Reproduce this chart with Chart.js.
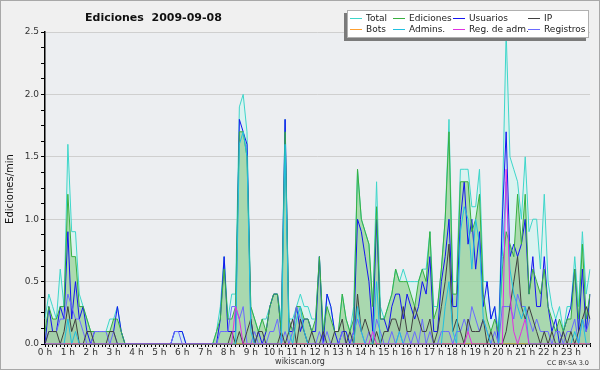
<!DOCTYPE html>
<html>
<head>
<meta charset="utf-8">
<script src="https://cdn.jsdelivr.net/npm/chart.js@4.4.1/dist/chart.umd.min.js"></script>
<style>
  body { margin: 0; background: #f0f0f0; }
  #wrap { width: 600px; height: 370px; }
</style>
</head>
<body>
<div id="wrap"><canvas id="editsChart" width="600" height="370"></canvas></div>
<script>
// Hour labels on the x axis, one bin every 10 minutes
const hourLabels = ['0 h', '1 h', '2 h', '3 h', '4 h', '5 h', '6 h', '7 h', '8 h', '9 h', '10 h', '11 h',
  '12 h', '13 h', '14 h', '15 h', '16 h', '17 h', '18 h', '19 h', '20 h', '21 h', '22 h', '23 h'];
const binLabels = [];
for (let h = 0; h < 24; h++) {
  for (let m = 0; m < 60; m += 10) binLabels.push(h + ':' + String(m).padStart(2, '0'));
}
const yTicks = [0, 0.5, 1, 1.5, 2, 2.5];

// Edits per minute, one line per hour (6 bins of 10 min)
const totalData = [
  0.2, 0.4, 0.3, 0.2, 0.6, 0.3,
  1.6, 0.9, 0.9, 0.4, 0.3, 0.2,
  0.1, 0.1, 0.1, 0.1, 0.1, 0.2,
  0.2, 0.3, 0.1, 0, 0, 0,
  0, 0, 0, 0, 0, 0,
  0, 0, 0, 0, 0.1, 0.1,
  0.1, 0, 0, 0, 0, 0,
  0, 0, 0, 0.1, 0.3, 0.7,
  0.2, 0.4, 0.4, 1.9, 2.0, 1.7,
  0.3, 0.2, 0.1, 0.2, 0.2, 0.3,
  0.4, 0.4, 0.2, 1.8, 0.2, 0.2,
  0.3, 0.4, 0.3, 0.3, 0.2, 0.2,
  0.7, 0.1, 0.4, 0.3, 0.1, 0.1,
  0.4, 0.2, 0.1, 0.3, 1.4, 1.0,
  0.9, 0.8, 0.3, 1.3, 0.3, 0.2,
  0.3, 0.4, 0.6, 0.5, 0.6, 0.5,
  0.5, 0.5, 0.5, 0.6, 0.6, 0.9,
  0.3, 0.3, 0.6, 1.0, 1.8, 0.5,
  0.5, 1.4, 1.4, 1.4, 1.1, 1.1,
  1.4, 0.5, 0.5, 0.2, 0.3, 0.1,
  1.1, 2.5, 1.5, 1.4, 1.3, 1.0,
  1.5, 0.9, 1.0, 1.0, 0.6, 1.2,
  0.5, 0.3, 0.2, 0.3, 0.1, 0.3,
  0.3, 0.7, 0.3, 0.9, 0.4, 0.6
];
const edicionesData = [
  0.1, 0.3, 0.2, 0.2, 0.3, 0.3,
  1.2, 0.7, 0.7, 0.3, 0.3, 0.2,
  0.1, 0.1, 0.1, 0.1, 0.1, 0.1,
  0.2, 0.2, 0.1, 0, 0, 0,
  0, 0, 0, 0, 0, 0,
  0, 0, 0, 0, 0, 0,
  0, 0, 0, 0, 0, 0,
  0, 0, 0, 0.1, 0.2, 0.6,
  0.2, 0.2, 0.3, 1.7, 1.7, 1.5,
  0.3, 0.2, 0.1, 0.2, 0.1, 0.3,
  0.4, 0.4, 0.1, 1.7, 0.2, 0.1,
  0.3, 0.3, 0.2, 0.2, 0.1, 0.2,
  0.7, 0.1, 0.3, 0.2, 0.1, 0.1,
  0.4, 0.2, 0.1, 0.2, 1.4, 1.0,
  0.9, 0.8, 0.3, 1.1, 0.2, 0.2,
  0.3, 0.4, 0.6, 0.5, 0.5, 0.5,
  0.4, 0.3, 0.5, 0.6, 0.5, 0.9,
  0.2, 0.3, 0.6, 1.0, 1.7, 0.4,
  0.4, 1.3, 1.3, 1.3, 0.9, 1.0,
  1.2, 0.4, 0.2, 0.1, 0.2, 0.1,
  0.6, 0.9, 0.8, 0.7, 1.2, 0.8,
  1.2, 0.4, 0.6, 0.5, 0.4, 0.6,
  0.3, 0.2, 0.1, 0.2, 0.1, 0.2,
  0.2, 0.6, 0.2, 0.8, 0.2, 0.4
];
const usuariosData = [
  0, 0.3, 0.1, 0.1, 0.3, 0.2,
  0.9, 0.2, 0.5, 0.2, 0.3, 0.1,
  0, 0.1, 0.1, 0.1, 0.1, 0.1,
  0.1, 0.3, 0.1, 0, 0, 0,
  0, 0, 0, 0, 0, 0,
  0, 0, 0, 0, 0.1, 0.1,
  0.1, 0, 0, 0, 0, 0,
  0, 0, 0, 0, 0.2, 0.7,
  0.1, 0.1, 0.1, 1.8, 1.7, 1.6,
  0.2, 0, 0.1, 0, 0.1, 0.3,
  0.4, 0.4, 0.1, 1.8, 0.1, 0.1,
  0.3, 0.1, 0.2, 0.2, 0.1, 0.1,
  0.7, 0, 0.4, 0.3, 0.1, 0,
  0.1, 0.1, 0, 0.1, 1.0, 0.9,
  0.7, 0.5, 0.1, 1.0, 0.2, 0.2,
  0.1, 0.3, 0.4, 0.4, 0.2, 0.4,
  0.3, 0.2, 0.3, 0.5, 0.4, 0.7,
  0.1, 0.1, 0.5, 0.7, 1.0, 0.3,
  0.3, 1.0, 1.3, 0.8, 1.0, 0.6,
  0.9, 0.3, 0.5, 0.2, 0.3, 0,
  1.0, 1.7, 0.7, 0.8, 0.7, 0.8,
  1.0, 0.4, 0.7, 0.3, 0.3, 0.7,
  0.3, 0.1, 0.2, 0, 0.1, 0.2,
  0.3, 0.6, 0.1, 0.6, 0.1, 0.4
];
const ipData = [
  0, 0.1, 0.1, 0.1, 0, 0.1,
  0.3, 0.1, 0.2, 0, 0, 0.1,
  0.1, 0, 0, 0, 0, 0.1,
  0.1, 0, 0, 0, 0, 0,
  0, 0, 0, 0, 0, 0,
  0, 0, 0, 0, 0, 0,
  0, 0, 0, 0, 0, 0,
  0, 0, 0, 0, 0, 0,
  0, 0.1, 0, 0.1, 0, 0.1,
  0.2, 0, 0.1, 0.1, 0, 0,
  0, 0, 0.1, 0, 0.1, 0.2,
  0, 0.2, 0.1, 0, 0.1, 0,
  0, 0.1, 0, 0, 0.1, 0.1,
  0.2, 0, 0.1, 0, 0.4, 0.1,
  0.2, 0.1, 0, 0.1, 0, 0.1,
  0.1, 0.2, 0.2, 0.1, 0.3, 0.1,
  0.1, 0.3, 0.2, 0.1, 0.1, 0.2,
  0, 0.1, 0.3, 0.5, 0.8, 0.1,
  0.2, 0.1, 0, 0.2, 0.1, 0.1,
  0.1, 0.2, 0, 0.1, 0, 0,
  0, 0.1, 0.3, 0.5, 0.7, 0.3,
  0.2, 0.3, 0.2, 0.1, 0, 0.1,
  0, 0.1, 0, 0, 0.1, 0,
  0.1, 0, 0.1, 0.2, 0.3, 0.2
];
const botsData = [
  0, 0, 0, 0, 0, 0,  0, 0, 0, 0, 0, 0,  0, 0, 0, 0, 0, 0,  0, 0, 0, 0, 0, 0,
  0, 0, 0, 0, 0, 0,  0, 0, 0, 0, 0, 0,  0, 0, 0, 0, 0, 0,  0, 0, 0, 0, 0, 0,
  0, 0, 0, 0, 0, 0,  0, 0, 0, 0, 0, 0,  0, 0, 0, 0, 0, 0,  0, 0, 0, 0, 0, 0,
  0, 0, 0, 0, 0, 0,  0, 0, 0, 0, 0, 0,  0, 0, 0, 0, 0, 0,  0, 0, 0, 0, 0, 0,
  0, 0, 0, 0, 0, 0,  0, 0, 0, 0, 0, 0,  0, 0, 0, 0, 0, 0,  0, 0, 0, 0, 0, 0,
  0, 0, 0, 0, 0, 0,  0, 0, 0, 0, 0, 0,  0, 0, 0, 0, 0, 0,  0, 0, 0, 0, 0, 0
];
const adminsData = [
  0, 0, 0, 0, 0, 0,
  0.2, 0, 0.1, 0, 0, 0,
  0, 0, 0, 0, 0, 0,
  0, 0, 0, 0, 0, 0,
  0, 0, 0, 0, 0, 0,
  0, 0, 0, 0, 0, 0,
  0, 0, 0, 0, 0, 0,
  0, 0, 0, 0, 0, 0,
  0, 0, 0, 1.6, 1.7, 1.5,
  0.1, 0, 0, 0, 0, 0,
  0, 0, 0, 1.6, 0.1, 0,
  0.2, 0.3, 0.1, 0, 0, 0,
  0, 0, 0, 0, 0, 0,
  0, 0, 0, 0, 0.3, 0.1,
  0, 0, 0, 0.5, 0, 0,
  0, 0, 0, 0.1, 0, 0,
  0, 0, 0, 0, 0, 0,
  0, 0, 0, 0.3, 0.5, 0.1,
  0, 0.9, 1.1, 1.0, 0.6, 1.0,
  0.8, 0.2, 0.1, 0, 0, 0,
  0.7, 1.3, 0.6, 0.4, 0.3, 0.2,
  0.3, 0, 0, 0, 0, 0,
  0, 0, 0, 0, 0, 0,
  0, 0.1, 0, 0.2, 0, 0
];
const regAdmData = [
  0, 0, 0, 0, 0, 0,  0, 0, 0, 0, 0, 0,  0, 0, 0, 0, 0, 0,  0, 0, 0, 0, 0, 0,
  0, 0, 0, 0, 0, 0,  0, 0, 0, 0, 0, 0,  0, 0, 0, 0, 0, 0,  0, 0, 0, 0, 0, 0,
  0, 0, 0.3, 0.2, 0, 0,  0, 0, 0, 0, 0, 0,  0, 0, 0, 0, 0, 0,  0, 0, 0, 0, 0, 0,
  0, 0, 0, 0, 0, 0,  0, 0, 0, 0, 0, 0,  0, 0, 0.1, 0, 0, 0,  0, 0, 0, 0, 0, 0,
  0, 0, 0, 0, 0, 0,  0, 0, 0, 0, 0, 0,  0, 0, 0, 0.1, 0, 0,  0, 0, 0, 0, 0, 0,
  0, 1.4, 0.4, 0.1, 0, 0.1,  0.2, 0, 0, 0, 0, 0,  0, 0, 0, 0, 0, 0,  0, 0, 0, 0, 0, 0
];
const registrosData = [
  0, 0.1, 0.1, 0.1, 0.2, 0.2,
  0.4, 0.3, 0.2, 0.2, 0.1, 0,
  0, 0.1, 0.1, 0.1, 0.1, 0,
  0.1, 0, 0, 0, 0, 0,
  0, 0, 0, 0, 0, 0,
  0, 0, 0, 0, 0.1, 0.1,
  0, 0, 0, 0, 0, 0,
  0, 0, 0, 0, 0.1, 0.1,
  0.1, 0.3, 0.3, 0.2, 0.3, 0,
  0, 0.1, 0, 0, 0, 0.1,
  0.1, 0.2, 0, 0.1, 0, 0.1,
  0.3, 0.2, 0.1, 0, 0, 0,
  0.1, 0, 0.1, 0, 0, 0,
  0.1, 0, 0, 0.1, 0.2, 0.1,
  0, 0.1, 0, 0.2, 0.1, 0,
  0, 0.1, 0, 0.1, 0, 0.1,
  0, 0.1, 0, 0.2, 0, 0.1,
  0, 0, 0.1, 0.1, 0.1, 0,
  0.1, 0.1, 0.2, 0.1, 0.3, 0.2,
  0.1, 0.2, 0.1, 0, 0.1, 0,
  0.3, 0.3, 0.3, 0.2, 0.4, 0.3,
  0.3, 0.2, 0.1, 0.2, 0.1, 0.1,
  0.1, 0, 0.1, 0.1, 0, 0.1,
  0.1, 0.2, 0, 0.2, 0.1, 0.2
];

const FONT = '"DejaVu Sans", sans-serif';

function line(label, data, color, fill, order) {
  return {
    label: label,
    data: data,
    borderColor: color,
    backgroundColor: fill || 'transparent',
    fill: fill ? 'origin' : false,
    borderWidth: 1,
    pointRadius: 0,
    tension: 0,
    order: order
  };
}

// higher order = drawn further back
const datasets = [
  line('Total', totalData, '#3ed6ca', 'rgba(205,246,238,0.55)', 9),
  line('Ediciones', edicionesData, '#38b040', 'rgba(125,195,110,0.5)', 7),
  line('Usuarios', usuariosData, '#1414f0', 'rgba(175,200,248,0.12)', 8),
  line('IP', ipData, '#404040', 'rgba(60,60,60,0.06)', 5),
  line('Bots', botsData, '#ffa030', null, 10),
  line('Admins.', adminsData, '#20c0e0', null, 4),
  line('Reg. de adm.', regAdmData, '#e030e0', null, 3),
  line('Registros', registrosData, '#6a6aff', null, 6)
];

// Legend grid: row, column
const legendRows = [['Total', 'Ediciones', 'Usuarios', 'IP'], ['Bots', 'Admins.', 'Reg. de adm.', 'Registros']];
const legendColX = [350, 393, 453, 528];

const decor = {
  id: 'decor',
  beforeDraw(chart) {
    const ctx = chart.ctx, a = chart.chartArea;
    ctx.save();
    ctx.fillStyle = '#f0f0f0';
    ctx.fillRect(0, 0, chart.width, chart.height);
    ctx.strokeStyle = '#a8a8a8';
    ctx.lineWidth = 1;
    ctx.strokeRect(0.5, 0.5, chart.width - 1, chart.height - 1);
    ctx.fillStyle = '#eceef1';
    ctx.fillRect(a.left, a.top, a.right - a.left, a.bottom - a.top);
    ctx.restore();
  },
  afterDraw(chart) {
    const ctx = chart.ctx;
    ctx.save();
    ctx.fillStyle = '#111';
    ctx.font = 'bold 11px ' + FONT;
    ctx.textBaseline = 'alphabetic';
    ctx.textAlign = 'left';
    ctx.fillText('Ediciones  2009-09-08', 85, 21);

    ctx.save();
    ctx.translate(10, 189);
    ctx.rotate(-Math.PI / 2);
    ctx.textAlign = 'center';
    ctx.textBaseline = 'middle';
    ctx.font = '10px ' + FONT;
    ctx.fillText('Ediciones/min', 0, 0);
    ctx.restore();

    ctx.fillStyle = '#333';
    ctx.font = '8px ' + FONT;
    ctx.textAlign = 'center';
    ctx.fillText('wikiscan.org', 300, 364);
    ctx.font = '6.5px ' + FONT;
    ctx.textAlign = 'right';
    ctx.fillText('CC BY-SA 3.0', 589, 365);

    // legend box with shadow
    ctx.fillStyle = '#7a7a7a';
    ctx.fillRect(344, 13, 242, 28);
    ctx.fillStyle = '#ffffff';
    ctx.fillRect(347, 10, 242, 28);
    ctx.strokeStyle = '#b0b0b0';
    ctx.strokeRect(347.5, 10.5, 241, 27);
    ctx.font = '9px ' + FONT;
    ctx.textAlign = 'left';
    ctx.textBaseline = 'middle';
    legendRows.forEach((row, r) => {
      const y = 18 + r * 11;
      row.forEach((name, c) => {
        const ds = datasets.find(d => d.label === name);
        const x = legendColX[c];
        ctx.strokeStyle = ds.borderColor;
        ctx.beginPath();
        ctx.moveTo(x, y + 0.5);
        ctx.lineTo(x + 12, y + 0.5);
        ctx.stroke();
        ctx.fillStyle = '#222';
        ctx.fillText(name, x + 16, y + 1);
      });
    });
    ctx.restore();
  }
};

const ctx = document.getElementById('editsChart').getContext('2d');
const editsChart = new Chart(ctx, {
  type: 'line',
  data: { labels: binLabels, datasets: datasets },
  options: {
    responsive: false,
    animation: false,
    layout: { padding: { top: 32, right: 10, left: 0, bottom: 0 } },
    plugins: {
      legend: { display: false },
      tooltip: { enabled: false },
      filler: { drawTime: 'beforeDatasetsDraw' }
    },
    scales: {
      x: {
        type: 'category',
        offset: false,
        z: 1,
        afterFit: s => { s.height = 26; },
        grid: { drawOnChartArea: false, offset: false, tickLength: 3, tickColor: '#000' },
        border: { color: '#000', width: 1.5 },
        ticks: {
          autoSkip: false, maxRotation: 0, minRotation: 0, padding: 0,
          color: '#333', font: { family: FONT, size: 9 },
          callback: (v, i) => (i % 6 === 0 ? hourLabels[i / 6] : '')
        }
      },
      y: {
        min: 0,
        max: 2.5,
        afterFit: s => { s.width = 45; },
        grid: {
          tickLength: 4,
          tickColor: '#000',
          color: c => (yTicks.some(t => Math.abs(t - c.tick.value) < 1e-6) ? '#cfcfcf' : 'transparent')
        },
        border: { color: '#000', width: 1.5 },
        ticks: {
          stepSize: 0.125, maxTicksLimit: 40, padding: 2,
          color: '#333', font: { family: FONT, size: 9 },
          callback: v => (yTicks.some(t => Math.abs(t - v) < 1e-6) ? v.toFixed(1) : '')
        }
      }
    }
  },
  plugins: [decor]
});
</script>
</body>
</html>
